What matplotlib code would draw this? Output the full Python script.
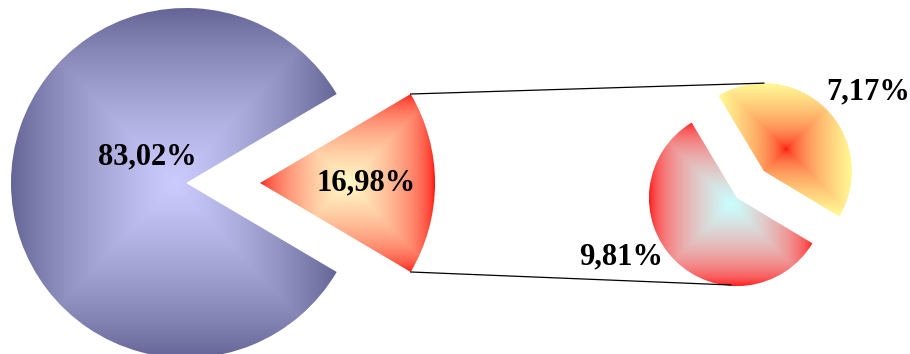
import numpy as np
import matplotlib
matplotlib.use("Agg")
import matplotlib.pyplot as plt
from matplotlib.patches import Wedge

# ---- data ----
main_labels = ["83,02%", "16,98%"]
main_values = [83.02, 16.98]
sub_labels = ["9,81%", "7,17%"]
sub_values = [9.81, 7.17]

W, H = 910, 354
fig = plt.figure(figsize=(9.1, 3.54), dpi=100)
ax = fig.add_axes([0, 0, 1, 1])
ax.axis('off')

GAMMA = 2.2


def grad_wedge(center, r, t1, t2, c_in, c_out):
    w = Wedge(center, r, t1, t2, facecolor='none', edgecolor='none')
    ax.add_patch(w)
    ext = w.get_path().get_extents()
    x0, y0, x1, y1 = ext.x0, ext.y0, ext.x1, ext.y1
    n = 500
    xs = np.linspace(x0, x1, n)
    ys = np.linspace(y0, y1, n)
    X, Y = np.meshgrid(xs, ys)
    cx, cy = (x0 + x1) / 2, (y0 + y1) / 2
    t = np.maximum(np.abs(X - cx) / ((x1 - x0) / 2), np.abs(Y - cy) / ((y1 - y0) / 2))
    t = np.clip(t, 0, 1)[..., None]
    ci = (np.array(c_in) / 255.0) ** GAMMA
    co = (np.array(c_out) / 255.0) ** GAMMA
    img = (ci + (co - ci) * t) ** (1 / GAMMA)
    im = ax.imshow(img, extent=(x0, x1, y0, y1), origin='lower',
                   interpolation='bilinear', aspect='auto')
    im.set_clip_path(w)
    return w


# ---- main pie ----
mc = (186, H - 183)
mr = 175
split_ang = 360 * main_values[1] / sum(main_values)
a1, a2 = -split_ang / 2, split_ang / 2
grad_wedge(mc, mr, a2, 360 + a1, (204, 204, 255), (100, 100, 150))
ex = 74
sc = (mc[0] + ex, mc[1])
grad_wedge(sc, mr, a1, a2, (255, 250, 200), (255, 0, 0))

# ---- sub pie ----
pc = (737, H - 198)
pr = 88
tot = sum(sub_values)
ang_y = 360 * sub_values[1] / tot
mid_y = 45
y1a, y2a = mid_y - ang_y / 2, mid_y + ang_y / 2
grad_wedge(pc, pr, y2a, y1a + 360, (200, 255, 255), (255, 0, 0))
off = 38
yc = (pc[0] + off * np.cos(np.radians(mid_y)), pc[1] + off * np.sin(np.radians(mid_y)))
grad_wedge(yc, pr, y1a, y2a, (255, 0, 0), (255, 250, 150))

# ---- connector lines ----
p_top = (sc[0] + mr * np.cos(np.radians(a2)), sc[1] + mr * np.sin(np.radians(a2)))
p_bot = (sc[0] + mr * np.cos(np.radians(a1)), sc[1] + mr * np.sin(np.radians(a1)))
ax.plot([p_top[0], yc[0]], [p_top[1], yc[1] + pr], color='black', lw=0.9)
ax.plot([p_bot[0], pc[0] - 6], [p_bot[1], pc[1] - pr + 1], color='black', lw=0.9)

# ---- labels ----
label_pos = [(147, 157), (366, 183), (621, 257), (868, 92)]
for lab, (x, y) in zip(main_labels + sub_labels, label_pos):
    ax.text(x, H - y, lab, ha='center', va='center', fontsize=22,
            fontweight='bold', family='Liberation Serif', color='black')

ax.set_xlim(0, W)
ax.set_ylim(0, H)
fig.savefig("out.png", dpi=100)
